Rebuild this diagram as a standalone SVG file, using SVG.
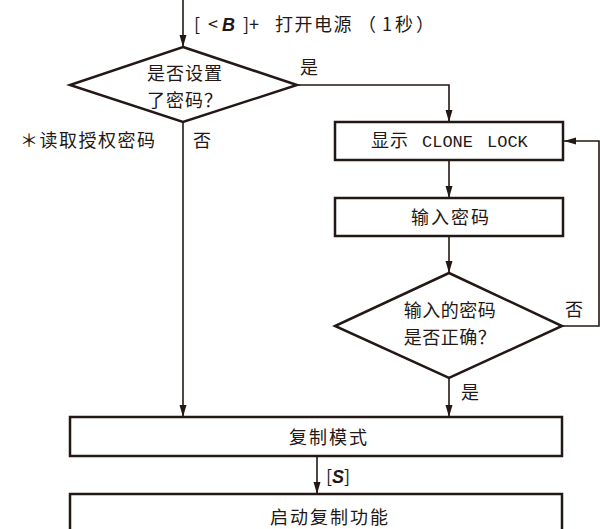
<svg xmlns="http://www.w3.org/2000/svg" width="600" height="529" viewBox="0 0 600 529">
<defs>
<marker id="ah" markerWidth="12" markerHeight="8" refX="12" refY="4" orient="auto" markerUnits="userSpaceOnUse">
<path d="M0,0.5 L12,4 L0,7.5 Z" fill="#231815"/>
</marker>
<style>
.box{fill:#fff;stroke:#231815;stroke-width:2.5}
.dia{fill:#fff;stroke:#231815;stroke-width:2.5}
.ln{fill:none;stroke:#231815;stroke-width:1.6}
.t{font-family:"Noto Sans CJK SC","Noto Sans",sans-serif;font-size:18px;fill:#231815}
.c{text-anchor:middle}
.sp{letter-spacing:2px}
.m{font-family:"Liberation Mono",monospace;font-size:17px}
.bi{font-family:"Liberation Sans",sans-serif;font-weight:bold;font-style:italic}
</style>
</defs>
<rect width="600" height="529" fill="#fff"/>
<g id="connectors">
<path class="ln" d="M183,0 V47" marker-end="url(#ah)"/>
<path class="ln" d="M297,85 H449 V122" marker-end="url(#ah)"/>
<path class="ln" d="M449,160 V198" marker-end="url(#ah)"/>
<path class="ln" d="M449,236 V273" marker-end="url(#ah)"/>
<path class="ln" d="M562,326 H599 V141 H564" marker-end="url(#ah)"/>
<path class="ln" d="M449,378 V417" marker-end="url(#ah)"/>
<path class="ln" d="M183,122 V417" marker-end="url(#ah)"/>
<path class="ln" d="M317,456 V494" marker-end="url(#ah)"/>
</g>
<g id="labels">
<text class="t" y="31" font-size="19"><tspan x="194">[</tspan><tspan x="208">&lt;</tspan><tspan class="bi" x="222">B</tspan><tspan x="243">]+</tspan><tspan x="275" letter-spacing="1.5">打开电源</tspan><tspan x="358">（</tspan><tspan x="382">1</tspan><tspan x="395">秒</tspan><tspan x="416">）</tspan></text>
<text class="t" x="300" y="74">是</text>
<text class="t" x="193" y="147">否</text>
<text class="t" x="20" y="147" letter-spacing="1.5">＊读取授权密码</text>
<text class="t" x="565" y="316">否</text>
<text class="t" x="461" y="399">是</text>
<text class="t" x="326" y="483">[<tspan class="bi">S</tspan>]</text>
</g>
<g id="node-d1">
<polygon class="dia" points="183,47 297,85 183,122 70,85"/>
<text class="t c" x="185" y="80" letter-spacing="1">是否设置</text>
<text class="t c" x="185" y="107" letter-spacing="1">了密码？</text>
</g>
<g id="node-b1">
<rect class="box" x="335" y="122" width="228" height="38"/>
<text class="t" y="147"><tspan x="371" letter-spacing="1">显示</tspan><tspan class="m" x="422" letter-spacing="0">CLONE</tspan><tspan class="m" x="487">LOCK</tspan></text>
</g>
<g id="node-b2">
<rect class="box" x="335" y="198" width="228" height="38"/>
<text class="t c sp" x="451" y="224">输入密码</text>
</g>
<g id="node-d2">
<polygon class="dia" points="449,273 562,326 449,378 335,326"/>
<text class="t c" x="450" y="317" letter-spacing="0.5">输入的密码</text>
<text class="t c" x="450" y="344" letter-spacing="0.5">是否正确？</text>
</g>
<g id="node-b3">
<rect class="box" x="70" y="417" width="492" height="39"/>
<text class="t c sp" x="329" y="444">复制模式</text>
</g>
<g id="node-b4">
<rect class="box" x="70" y="494" width="492" height="45"/>
<text class="t c sp" x="330" y="524">启动复制功能</text>
</g>
</svg>
